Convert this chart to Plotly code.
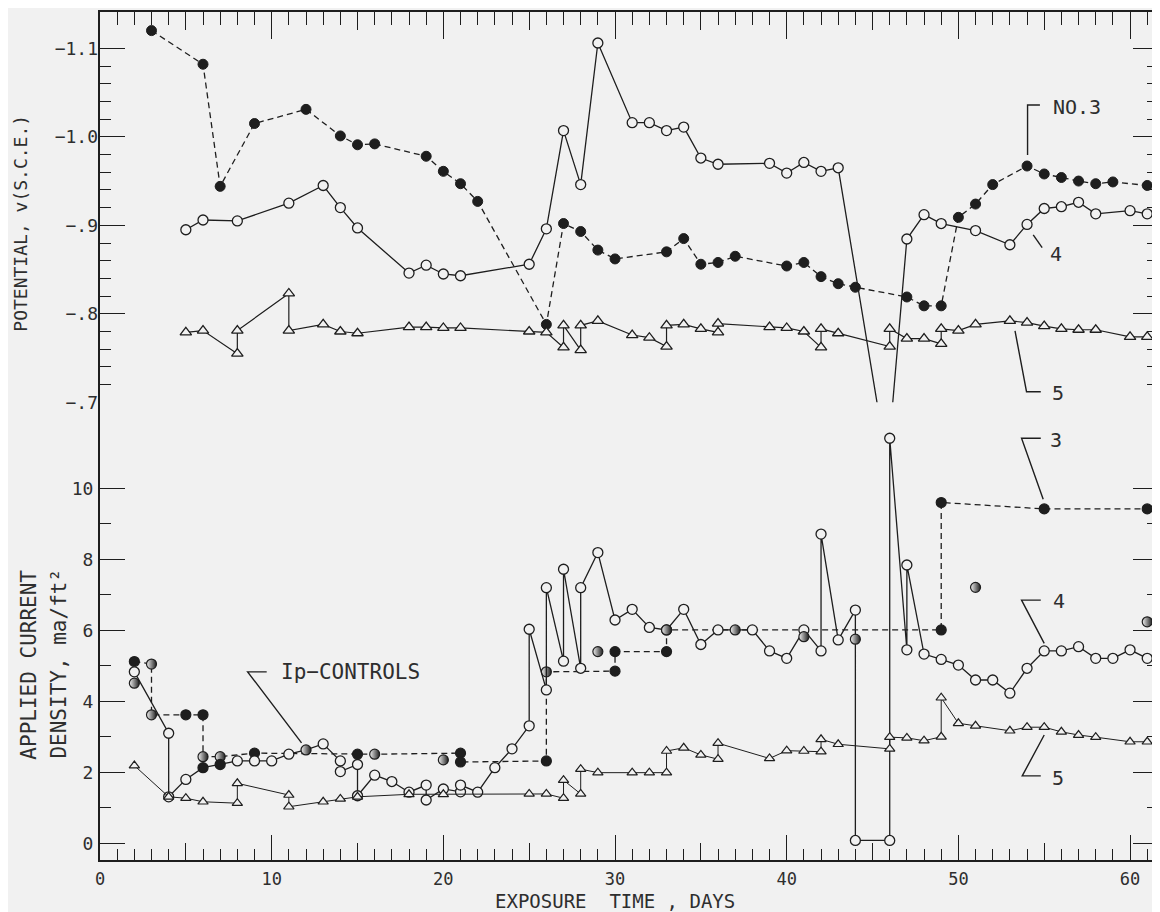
import plotly.graph_objects as go
import numpy as np

# ---------------- data ----------------
# Top panel: potential, V vs S.C.E.
pot3_days = [3, 6, 7, 9, 12, 14, 15, 16, 19, 20, 21, 22, 26, 27, 28, 29, 30, 33, 34, 35, 36, 37,
             40, 41, 42, 43, 44, 47, 48, 49, 50, 51, 52, 54, 55, 56, 57, 58, 59, 61]
pot3_vals = [-1.120, -1.082, -0.944, -1.015, -1.031, -1.001, -0.991, -0.992, -0.978, -0.961, -0.947,
             -0.927, -0.788, -0.902, -0.893, -0.872, -0.862, -0.870, -0.885, -0.856, -0.858, -0.865,
             -0.854, -0.858, -0.842, -0.834, -0.830, -0.819, -0.809, -0.809, -0.909, -0.924, -0.946,
             -0.967, -0.958, -0.954, -0.950, -0.947, -0.949, -0.945]

# (the two values near day 45-46 are off scale, beyond -0.7)
pot4_days = [5, 6, 8, 11, 13, 14, 15, 18, 19, 20, 21, 25, 26, 27, 28, 29, 31, 32, 33, 34, 35, 36,
             39, 40, 41, 42, 43, 45.6, 46, 47, 48, 49, 51, 53, 54, 55, 56, 57, 58, 60, 61]
pot4_vals = [-0.895, -0.906, -0.905, -0.925, -0.945, -0.920, -0.897, -0.846, -0.855, -0.845, -0.843,
             -0.856, -0.896, -1.007, -0.946, -1.106, -1.016, -1.016, -1.007, -1.011, -0.976, -0.969,
             -0.970, -0.959, -0.971, -0.961, -0.965, -0.66, -0.66, -0.8845, -0.912, -0.902,
             -0.894, -0.878, -0.901, -0.919, -0.921, -0.926, -0.913, -0.9165, -0.913]

pot5_days = [5, 6, 8, 8, 11, 11, 13, 14, 15, 18, 19, 20, 21, 25, 26, 27, 27, 28, 28, 29, 31, 32, 33,
             33, 34, 35, 36, 36, 39, 40, 41, 42, 42, 43, 46, 46, 47, 48, 49, 49, 50, 51, 53, 54, 55,
             56, 57, 58, 60, 61]
pot5_vals = [-0.779, -0.781, -0.755, -0.781, -0.823, -0.781, -0.788, -0.780, -0.778, -0.785, -0.785,
             -0.784, -0.784, -0.780, -0.779, -0.762, -0.787, -0.759, -0.787, -0.792, -0.776, -0.773,
             -0.763, -0.787, -0.788, -0.783, -0.779, -0.789, -0.785, -0.784, -0.780, -0.762, -0.783,
             -0.778, -0.763, -0.783, -0.772, -0.772, -0.766, -0.783, -0.781, -0.788, -0.792, -0.790,
             -0.786, -0.783, -0.782, -0.782, -0.774, -0.774]

# Bottom panel: applied current density, ma/ft^2
cur3_days = [2, 3, 3, 5, 6, 6, 7, 9, 15, 16, 21, 21, 26, 26, 30, 30, 33, 33, 49, 49, 55, 61]
cur3_vals = [5.12, 5.05, 3.62, 3.62, 3.62, 2.44, 2.44, 2.54, 2.51, 2.51, 2.54, 2.29, 2.32, 4.83,
             4.85, 5.40, 5.40, 6.01, 6.01, 9.60, 9.42, 9.42]
cur3_kind = ['f', 'h', 'h', 'f', 'f', 'h', 'h', 'f', 'f', 'h', 'f', 'f', 'f', 'h', 'f', 'f', 'f',
             'h', 'f', 'f', 'f', 'f']

cur4_days = [2, 4, 4, 5, 6, 7, 8, 9, 10, 11, 12, 13, 14, 14, 15, 15, 16, 17, 18, 19, 19, 20, 21,
             21, 22, 23, 24, 25, 25, 26, 26, 27, 27, 28, 28, 29, 30, 31, 32, 33, 34, 35, 36, 38,
             39, 40, 41, 42, 42, 43, 44, 44, 46, 46, 47, 47, 48, 49, 50, 51, 52, 53, 54, 55, 56,
             57, 58, 59, 60, 61]
cur4_vals = [4.83, 3.10, 1.31, 1.80, 2.13, 2.22, 2.32, 2.32, 2.32, 2.51, 2.63, 2.80, 2.32, 2.02,
             2.22, 1.34, 1.92, 1.74, 1.44, 1.64, 1.22, 1.53, 1.45, 1.64, 1.44, 2.13, 2.66, 3.31,
             6.03, 4.32, 7.20, 5.13, 7.72, 4.93, 7.20, 8.19, 6.29, 6.59, 6.08, 6.01, 6.59, 5.60,
             6.01, 6.01, 5.42, 5.21, 6.01, 5.42, 8.71, 5.73, 6.57, 0.08, 0.08, 11.41, 5.45, 7.84,
             5.33, 5.18, 5.02, 4.60, 4.60, 4.23, 4.93, 5.42, 5.42, 5.54, 5.21, 5.21, 5.45, 5.21]
cur4_kind = ['o'] * len(cur4_days)
for _i, _k in [(4, 'f'), (5, 'f'), (10, 'h'), (39, 'h')]:
    cur4_kind[_i] = _k

cur5_days = [2, 4, 5, 6, 8, 8, 11, 11, 13, 14, 15, 18, 20, 25, 26, 27, 27, 28, 28, 29, 31, 32, 33,
             33, 34, 35, 36, 36, 39, 40, 41, 42, 42, 43, 46, 46, 47, 48, 49, 49, 50, 51, 53, 54,
             55, 56, 57, 58, 60, 61]
cur5_vals = [2.19, 1.31, 1.27, 1.17, 1.13, 1.69, 1.36, 1.03, 1.17, 1.25, 1.31, 1.38, 1.38, 1.39,
             1.39, 1.27, 1.78, 1.39, 2.09, 1.99, 1.99, 1.99, 1.99, 2.60, 2.69, 2.49, 2.37, 2.82,
             2.39, 2.61, 2.60, 2.58, 2.93, 2.79, 2.66, 2.99, 2.97, 2.89, 3.00, 4.10, 3.38, 3.31,
             3.17, 3.27, 3.27, 3.14, 3.05, 2.99, 2.86, 2.86]

ctrl_days = [2, 20, 29, 37, 41, 44, 51, 61]
ctrl_vals = [4.51, 2.35, 5.40, 6.01, 5.82, 5.75, 7.21, 6.24]

x_major = [0, 10, 20, 30, 40, 50, 60]
x_mid = [5, 15, 25, 35, 45, 55]
pot_ticks = [-1.1, -1.0, -0.9, -0.8, -0.7]
pot_labels = ['\u22121.1', '\u22121.0', '\u2212.9', '\u2212.8', '\u2212.7']
cur_ticks = [0, 2, 4, 6, 8, 10]
cur_minor = [1, 3, 5, 7, 9]

# ---------------- styling ----------------
BG = '#f1f1f1'
INK = '#1e1e1e'
TXT = '#2e2e2e'
FONT = 'DejaVu Sans Mono'

# page offset of the figure (browser body margin)
OFF = 8
W, H = 1160 - OFF, 912 - OFF
# plot area in page px (as measured on the reference)
PL, PR, PT, PB = 100, 1160, 12, 860
X_RANGE = [0, (PR - PL) / 17.2]
CUR_RANGE = [-(PB - 843.3) / 35.5, (843.3 - PT) / 35.5]
POT_DOM0 = (PB - 402.3) / (PB - PT)
POT_RANGE = [-0.7, -1.1 - (48.3 - PT) / 885.0]

pot_minor = [v for v in np.round(np.arange(-1.10, -0.699, 0.02), 2)
             if abs(v * 10 - round(v * 10)) > 1e-6]


def px_x(px):
    return (px - PL) / (PR - PL)


def px_y(py):
    return (PB - py) / (PB - PT)


def kind_style(kinds):
    col, gtype, gcol = [], [], []
    for k in kinds:
        if k == 'f':
            col.append(INK); gtype.append('none'); gcol.append(INK)
        elif k == 'h':
            col.append(BG); gtype.append('horizontal'); gcol.append(INK)
        else:
            col.append(BG); gtype.append('none'); gcol.append(BG)
    return col, gtype, gcol


fig = go.Figure()

# --- top panel traces ---
fig.add_trace(go.Scatter(x=pot3_days, y=pot3_vals, yaxis='y2', mode='lines+markers',
                         line=dict(color=INK, width=1.3, dash='6px,4px'),
                         marker=dict(symbol='circle', size=10, color=INK,
                                     line=dict(color=INK, width=1)),
                         hoverinfo='skip'))
fig.add_trace(go.Scatter(x=pot4_days, y=pot4_vals, yaxis='y2', mode='lines+markers',
                         line=dict(color=INK, width=1.3),
                         marker=dict(symbol='circle', size=10, color=BG,
                                     line=dict(color=INK, width=1.3)),
                         hoverinfo='skip'))
fig.add_trace(go.Scatter(x=pot5_days, y=pot5_vals, yaxis='y2', mode='lines+markers',
                         line=dict(color=INK, width=1.2),
                         marker=dict(symbol='triangle-up', size=10, color=BG,
                                     line=dict(color=INK, width=1.3)),
                         hoverinfo='skip'))

# --- bottom panel traces ---
c, gt, gc = kind_style(cur3_kind)
fig.add_trace(go.Scatter(x=cur3_days, y=cur3_vals, yaxis='y', mode='lines+markers',
                         line=dict(color=INK, width=1.3, dash='6px,4px'),
                         marker=dict(symbol='circle', size=10, color=c,
                                     gradient=dict(type=gt, color=gc),
                                     line=dict(color=INK, width=1.2)),
                         hoverinfo='skip'))
c, gt, gc = kind_style(cur4_kind)
fig.add_trace(go.Scatter(x=cur4_days, y=cur4_vals, yaxis='y', mode='lines+markers',
                         line=dict(color=INK, width=1.3),
                         marker=dict(symbol='circle', size=10, color=c,
                                     gradient=dict(type=gt, color=gc),
                                     line=dict(color=INK, width=1.3)),
                         hoverinfo='skip'))
fig.add_trace(go.Scatter(x=cur5_days, y=cur5_vals, yaxis='y', mode='lines+markers',
                         line=dict(color=INK, width=1.0),
                         marker=dict(symbol='triangle-up', size=9, color=BG,
                                     line=dict(color=INK, width=1.2)),
                         hoverinfo='skip'))
c, gt, gc = kind_style(['h'] * len(ctrl_days))
fig.add_trace(go.Scatter(x=ctrl_days, y=ctrl_vals, yaxis='y', mode='markers',
                         marker=dict(symbol='circle', size=10, color=c,
                                     gradient=dict(type=gt, color=gc),
                                     line=dict(color=INK, width=1.2)),
                         hoverinfo='skip'))
# carriers for the extra tick-only axes
for xa, ya in [('x2', 'y'), ('x3', 'y2'), ('x4', 'y2')]:
    fig.add_trace(go.Scatter(x=[0], y=[None], xaxis=xa, yaxis=ya, mode='markers',
                             hoverinfo='skip', showlegend=False))

tick_font = dict(family=FONT, size=18, color=TXT)
tick_only = dict(range=X_RANGE, overlaying='x', showticklabels=False, showline=False,
                 showgrid=False, zeroline=False, tickcolor=INK, ticks='inside')

fig.update_layout(
    width=W, height=H,
    margin=dict(l=PL - OFF, r=(W + OFF) - PR, t=PT - OFF, b=(H + OFF) - PB, pad=0),
    paper_bgcolor=BG, plot_bgcolor=BG, showlegend=False,
    font=dict(family=FONT, size=18, color=TXT),
    xaxis=dict(range=X_RANGE, tickmode='array', tickvals=x_major, ticks='inside', ticklen=25,
               tickwidth=1.4, tickcolor=INK, showline=True, linewidth=2, linecolor=INK,
               mirror=True, showgrid=False, zeroline=False,
               tickfont=dict(family=FONT, size=17, color=TXT),
               ticklabelstandoff=3,
               minor=dict(tickmode='linear', tick0=0, dtick=1, ticks='inside', ticklen=11,
                          tickwidth=1.2, tickcolor=INK, showgrid=False)),
    # bottom 5-day ticks
    xaxis2=dict(tick_only, anchor='y', side='bottom', tickmode='array', tickvals=x_mid,
                ticklen=17, tickwidth=1.3),
    # top edge ticks (10-day long + daily minor)
    xaxis3=dict(tick_only, anchor='y2', side='top', tickmode='array', tickvals=x_major,
                ticklen=27, tickwidth=1.4,
                minor=dict(tickmode='linear', tick0=0, dtick=1, ticks='inside', ticklen=13,
                           tickwidth=1.2, tickcolor=INK, showgrid=False)),
    # top edge 5-day ticks
    xaxis4=dict(tick_only, anchor='y2', side='top', tickmode='array', tickvals=x_mid,
                ticklen=18, tickwidth=1.3),
    yaxis=dict(domain=[0, 1], range=CUR_RANGE, tickmode='array', tickvals=cur_ticks,
               ticks='inside', ticklen=25, tickwidth=1.4, tickcolor=INK, showline=True,
               linewidth=2, linecolor=INK, mirror='ticks', showgrid=False, zeroline=False,
               tickfont=tick_font, ticklabelstandoff=1,
               minor=dict(tickmode='array', tickvals=cur_minor, ticks='inside', ticklen=11,
                          tickwidth=1.2, tickcolor=INK, showgrid=False)),
    yaxis2=dict(domain=[POT_DOM0, 1], anchor='x', range=POT_RANGE, tickmode='array',
                tickvals=pot_ticks, ticktext=pot_labels, ticks='inside', ticklen=25,
                tickwidth=1.4, tickcolor=INK, showline=False, mirror='ticks', showgrid=False,
                zeroline=False, tickfont=tick_font, ticklabelstandoff=1,
                minor=dict(tickmode='array', tickvals=pot_minor, ticks='inside', ticklen=11,
                           tickwidth=1.2, tickcolor=INK, showgrid=False)),
)

# ---------------- axis titles ----------------
ann = []
ann.append(dict(text='POTENTIAL, v(S.C.E.)', textangle=-90, xref='paper', yref='paper',
                x=px_x(19.5), y=px_y(223), xanchor='center', yanchor='middle', showarrow=False,
                font=dict(family=FONT, size=18, color=TXT)))
ann.append(dict(text='APPLIED CURRENT', textangle=-90, xref='paper', yref='paper',
                x=px_x(28.5), y=px_y(665), xanchor='center', yanchor='middle', showarrow=False,
                font=dict(family=FONT, size=21, color=TXT)))
ann.append(dict(text='DENSITY, ma/ft\u00b2', textangle=-90, xref='paper', yref='paper',
                x=px_x(58.5), y=px_y(664), xanchor='center', yanchor='middle', showarrow=False,
                font=dict(family=FONT, size=21, color=TXT)))
ann.append(dict(text='EXPOSURE\u00a0 TIME , DAYS', xref='paper', yref='paper',
                x=px_x(616), y=px_y(900.5), xanchor='center', yanchor='middle', showarrow=False,
                font=dict(family=FONT, size=19, color=TXT)))

# ---------------- curve labels + leader lines ----------------
lab_font = dict(family=FONT, size=20, color=TXT)
ann.append(dict(text='NO.3', xref='x', yref='y2', x=55.39, y=-1.034, xanchor='left',
                yanchor='middle', showarrow=False, font=lab_font))
ann.append(dict(text='4', xref='x', yref='y2', x=55.23, y=-0.868, xanchor='left',
                yanchor='middle', showarrow=False, font=lab_font))
ann.append(dict(text='5', xref='x', yref='y2', x=55.33, y=-0.710, xanchor='left',
                yanchor='middle', showarrow=False, font=lab_font))
ann.append(dict(text='3', xref='x', yref='y', x=55.23, y=11.36, xanchor='left',
                yanchor='middle', showarrow=False, font=lab_font))
ann.append(dict(text='4', xref='x', yref='y', x=55.39, y=6.83, xanchor='left',
                yanchor='middle', showarrow=False, font=lab_font))
ann.append(dict(text='5', xref='x', yref='y', x=55.33, y=1.85, xanchor='left',
                yanchor='middle', showarrow=False, font=lab_font))
ann.append(dict(text='Ip\u2212CONTROLS', xref='x', yref='y', x=10.42, y=4.83, xanchor='left',
                yanchor='middle', showarrow=False, font=dict(family=FONT, size=21, color=TXT)))
fig.update_layout(annotations=ann)

ldr = dict(color=INK, width=1.4)
shapes = [
    dict(type='path', xref='x', yref='y2', path='M 54.03,-0.9794 L 54.03,-1.0359 L 54.75,-1.0359', line=ldr),
    dict(type='line', xref='x', yref='y2', x0=54.36, y0=-0.8892, x1=54.88, y1=-0.8747, line=ldr),
    dict(type='path', xref='x', yref='y2', path='M 53.30,-0.7806 L 53.97,-0.7120 L 54.80,-0.7120', line=ldr),
    dict(type='path', xref='x', yref='y', path='M 54.80,11.41 L 53.68,11.41 L 54.94,9.69', line=ldr),
    dict(type='path', xref='x', yref='y', path='M 54.80,6.85 L 53.68,6.85 L 55.00,5.63', line=ldr),
    dict(type='path', xref='x', yref='y', path='M 54.80,1.90 L 53.72,1.90 L 55.00,3.05', line=ldr),
    dict(type='path', xref='x', yref='y', path='M 9.71,4.83 L 8.60,4.83 L 11.74,2.83', line=ldr),
]
fig.update_layout(shapes=shapes)

fig.write_html('out.html')
